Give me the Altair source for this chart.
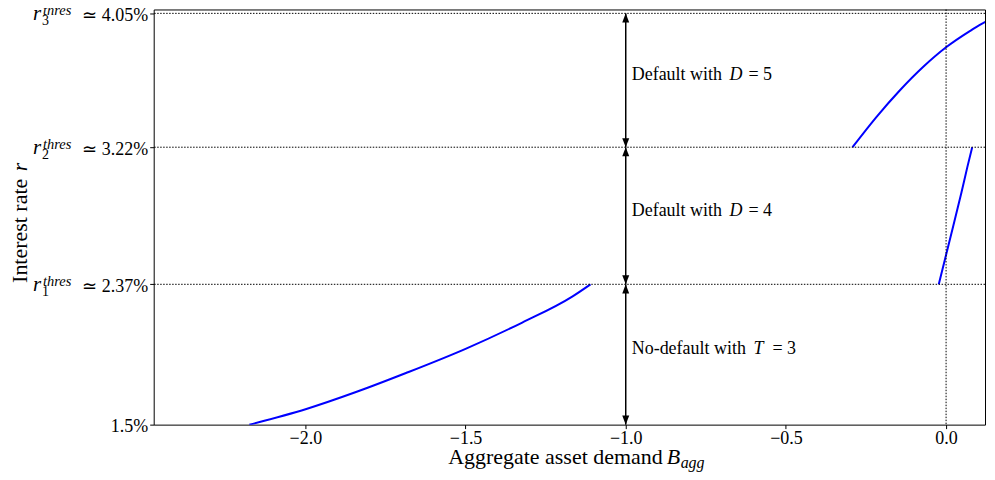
import altair as alt
import pandas as pd

# ---------------- data ----------------
lower_x = [-2.175, -1.997, -1.842, -1.686, -1.500, -1.323, -1.167, -1.110]
lower_y = [1.500, 1.597, 1.702, 1.820, 1.970, 2.133, 2.294, 2.370]
upper_x = [-0.292, -0.217, -0.144, -0.072, 0.001, 0.074, 0.121, 0.146]
upper_y = [3.220, 3.408, 3.573, 3.717, 3.841, 3.940, 3.996, 4.017]
steep_x = [-0.0228, -0.004, 0.0218, 0.0474, 0.0665, 0.0816]
steep_y = [2.370, 2.521, 2.727, 2.934, 3.098, 3.220]

thresholds = [2.37, 3.22, 4.05]
threshold_idx = ["1", "2", "3"]
y_ticks = [1.5, 2.37, 3.22, 4.05]
x_ticks = [-2.0, -1.5, -1.0, -0.5, 0.0]
vline_x = [0.0]

arrow_x = -1.0
seg_lo = [1.5, 2.37, 3.22]
seg_hi = [2.37, 3.22, 4.05]
seg_text = ["No-default with", "Default with", "Default with"]
seg_var = ["T", "D", "D"]
seg_val = ["= 3", "= 4", "= 5"]

# ---------------- layout ----------------
W, H = 833, 416
X_DOM = [-2.4735, 0.1215]
Y_DOM = [1.5, 4.074]
FONT = "Liberation Serif"

xs = alt.Scale(domain=X_DOM, nice=False, zero=False)
ys = alt.Scale(domain=Y_DOM, nice=False, zero=False)

x_axis = alt.Axis(
    values=x_ticks, format=".1f", title=None, grid=False, domain=False,
    ticks=True, tickSize=4, tickColor="black", labelPadding=1,
    labelFont=FONT, labelFontSize=18, labelColor="black")
y_axis = alt.Axis(
    values=y_ticks, title=None, grid=False, domain=False,
    ticks=True, tickSize=4, tickColor="black", labelPadding=2,
    labelBaseline="alphabetic", labelOffset=7,
    labelExpr="datum.value == 1.5 ? '1.5%' : '\u2243 ' + format(datum.value, '.2f') + '%'",
    labelFont=FONT, labelFontSize=18, labelColor="black")


def X(field):
    return alt.X(field, type="quantitative", scale=xs, axis=x_axis)


def Y(field):
    return alt.Y(field, type="quantitative", scale=ys, axis=y_axis)


rows = []
for name, xv, yv in [("lower", lower_x, lower_y), ("upper", upper_x, upper_y), ("steep", steep_x, steep_y)]:
    for i, (a, b) in enumerate(zip(xv, yv)):
        rows.append({"series": name, "i": i, "x": a, "y": b})
curves = pd.DataFrame(rows)

lines = alt.Chart(curves).mark_line(clip=True, color="#0000ff", strokeWidth=2, interpolate="monotone").encode(
    x=X("x"), y=Y("y"), detail="series:N", order="i:O")

thr_df = pd.DataFrame({"y": thresholds, "idx": threshold_idx})
hlines = alt.Chart(thr_df).mark_rule(color="black", strokeWidth=1, strokeDash=[1.5, 1.5]).encode(y=Y("y"))
vline = alt.Chart(pd.DataFrame({"x": vline_x})).mark_rule(color="black", strokeWidth=1, strokeDash=[1.5, 1.5]).encode(
    x=X("x"))

seg_df = pd.DataFrame({"x": [arrow_x] * 3, "lo": seg_lo, "hi": seg_hi,
                       "mid": [(a + b) / 2 for a, b in zip(seg_lo, seg_hi)],
                       "text": seg_text, "var": seg_var, "val": seg_val, "k": [0, 1, 2]})

shafts = alt.Chart(seg_df).mark_rule(color="black", strokeWidth=1.5).encode(x=X("x"), y=Y("lo"), y2="hi:Q")
UP = "M0,0L-1,2.6L1,2.6Z"
DOWN = "M0,0L-1,-2.6L1,-2.6Z"
heads_up = alt.Chart(seg_df).mark_point(shape=UP, filled=True, size=49, color="black", opacity=1).encode(
    x=X("x"), y=Y("hi"))
heads_dn = alt.Chart(seg_df).mark_point(shape=DOWN, filled=True, size=49, color="black", opacity=1).encode(
    x=X("x"), y=Y("lo"))

layers = [lines, hlines, vline, shafts, heads_up, heads_dn]

# region labels: roman text + italic variable + "= n"
var_dx = {0: 128, 1: 104, 2: 104}
for k in range(3):
    base = alt.Chart(seg_df).transform_filter(f"datum.k == {k}")
    layers.append(base.mark_text(align="left", baseline="alphabetic", dx=6, font=FONT, fontSize=18, color="black").encode(
        x=X("x"), y=Y("mid"), text="text:N"))
    layers.append(base.mark_text(align="left", baseline="alphabetic", dx=var_dx[k], font=FONT, fontSize=18,
                                 fontStyle="italic", color="black").encode(
        x=X("x"), y=Y("mid"), text="var:N"))
    layers.append(base.mark_text(align="left", baseline="alphabetic", dx=var_dx[k] + 19, font=FONT, fontSize=18,
                                 color="black").encode(
        x=X("x"), y=Y("mid"), text="val:N"))

# y tick label prefixes r_i^{thres}
thr_base = alt.Chart(thr_df)
layers.append(thr_base.mark_text(align="left", baseline="alphabetic", dy=7, font=FONT, fontSize=21,
                                 fontStyle="italic", color="black").encode(
    x=alt.value(-121), y=Y("y"), text=alt.value("r")))
layers.append(thr_base.mark_text(align="left", baseline="alphabetic", dy=2, font=FONT, fontSize=14.5,
                                 fontStyle="italic", color="black").encode(
    x=alt.value(-111), y=Y("y"), text=alt.value("thres")))
layers.append(thr_base.mark_text(align="left", baseline="alphabetic", dy=12, font=FONT, fontSize=14,
                                 color="black").encode(
    x=alt.value(-112), y=Y("y"), text="idx:N"))

# axis titles as text (mixed roman / italic)
title_df = pd.DataFrame({"a": [0]})
tb = alt.Chart(title_df)
layers.append(tb.mark_text(align="right", baseline="alphabetic", font=FONT, fontSize=22, color="black").encode(
    x=alt.value(510), y=alt.value(455), text=alt.value("Aggregate asset demand")))
layers.append(tb.mark_text(align="left", baseline="alphabetic", font=FONT, fontSize=22, fontStyle="italic",
                           color="black").encode(
    x=alt.value(514), y=alt.value(455), text=alt.value("B")))
layers.append(tb.mark_text(align="left", baseline="alphabetic", font=FONT, fontSize=16, fontStyle="italic",
                           color="black").encode(
    x=alt.value(528), y=alt.value(459), text=alt.value("agg")))
layers.append(tb.mark_text(align="left", baseline="alphabetic", angle=270, font=FONT, fontSize=22,
                           color="black").encode(
    x=alt.value(-127), y=alt.value(274), text=alt.value("Interest rate")))
layers.append(tb.mark_text(align="left", baseline="alphabetic", angle=270, font=FONT, fontSize=22,
                           fontStyle="italic", color="black").encode(
    x=alt.value(-127), y=alt.value(162), text=alt.value("r")))

chart = alt.layer(*layers).properties(
    width=W, height=H,
    autosize=alt.AutoSizeParams(type="none"),
    padding={"left": 146, "top": 1, "right": 2, "bottom": 55},
).configure_view(stroke="black", strokeWidth=1)

chart.save("out.html", embed_options={"renderer": "svg", "actions": False})
